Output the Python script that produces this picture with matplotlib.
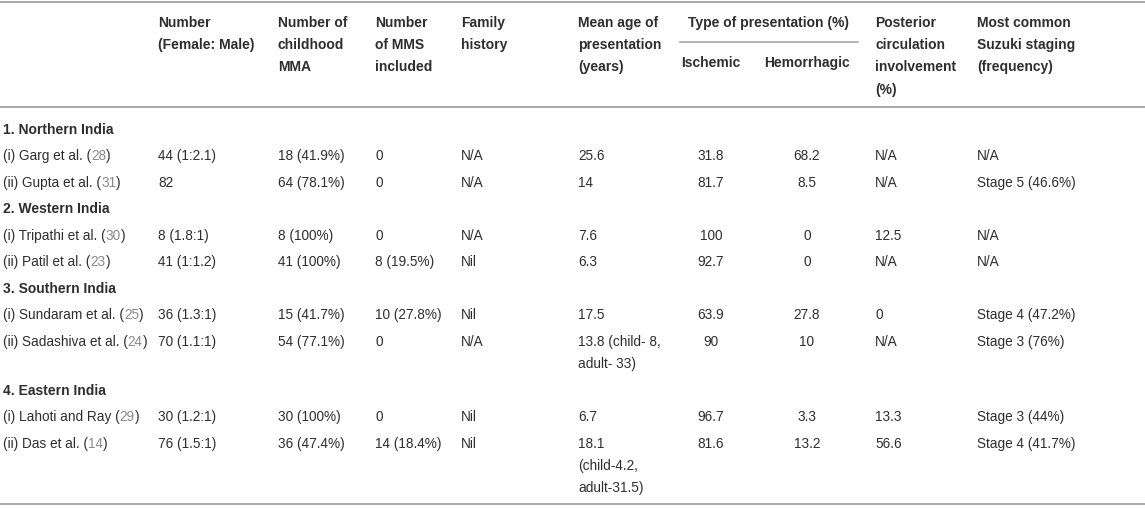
import matplotlib.pyplot as plt

# Table data
regiones = ["1. Northern India", "2. Western India", "3. Southern India", "4. Eastern India"]
region_de_estudio = [0, 0, 1, 1, 2, 2, 3, 3]
estudios = ["(i) Garg et al.", "(ii) Gupta et al.", "(i) Tripathi et al.", "(ii) Patil et al.",
            "(i) Sundaram et al.", "(ii) Sadashiva et al.", "(i) Lahoti and Ray", "(ii) Das et al."]
referencias = ["28", "31", "30", "23", "25", "24", "29", "14"]
numero = ["44 (1:2.1)", "82", "8 (1.8:1)", "41 (1:1.2)", "36 (1.3:1)", "70 (1.1:1)", "30 (1.2:1)", "76 (1.5:1)"]
infantil = ["18 (41.9%)", "64 (78.1%)", "8 (100%)", "41 (100%)", "15 (41.7%)", "54 (77.1%)", "30 (100%)", "36 (47.4%)"]
mms = ["0", "0", "0", "8 (19.5%)", "10 (27.8%)", "0", "0", "14 (18.4%)"]
familia = ["N/A", "N/A", "N/A", "Nil", "Nil", "N/A", "Nil", "Nil"]
edad = ["25.6", "14", "7.6", "6.3", "17.5", "13.8 (child- 8,\nadult- 33)", "6.7",
        "18.1\n(child-4.2,\nadult-31.5)"]
isquemico = ["31.8", "81.7", "100", "92.7", "63.9", "90", "96.7", "81.6"]
hemorragico = ["68.2", "8.5", "0", "0", "27.8", "10", "3.3", "13.2"]
posterior = ["N/A", "N/A", "12.5", "N/A", "0", "N/A", "13.3", "56.6"]
suzuki = ["N/A", "Stage 5 (46.6%)", "N/A", "N/A", "Stage 4 (47.2%)", "Stage 3 (76%)",
          "Stage 3 (44%)", "Stage 4 (41.7%)"]

encabezados = ["Number\n(Female: Male)", "Number of\nchildhood\nMMA", "Number\nof MMS\nincluded",
               "Family\nhistory", "Mean age of\npresentation\n(years)", None, None,
               "Posterior\ncirculation\ninvolvement\n(%)", "Most common\nSuzuki staging\n(frequency)"]
grupo = "Type of presentation (%)"
subencabezados = ["Ischemic", "Hemorrhagic"]

# Layout (pixels)
W, H = 1145, 510
col_x = [158, 278, 375, 461, 578, 711, 807, 875, 977]
col_ha = ["left", "left", "left", "left", "left", "center", "center", "left", "left"]
stub_x = 3
texto = "#2e2e2e"
gris = "#8a8a8a"
regla = "#a8a8a8"
fs = 9.8
fs_b = 10
lh = 22.2

plt.rcParams['font.family'] = ['Liberation Sans', 'DejaVu Sans']

fig = plt.figure(figsize=(W / 100, H / 100), dpi=100)
ax = fig.add_axes([0, 0, 1, 1])
ax.set_xlim(0, W)
ax.set_ylim(H, 0)
ax.axis("off")


def celda(x, y, s, ha="left", bold=False, color=texto):
    for i, linea in enumerate(s.split("\n")):
        ax.text(x, y + i * lh, linea, ha=ha, va="center", fontsize=fs_b if bold else fs,
                fontweight="bold" if bold else "normal", color=color)


# rules
ax.axhline(3, color=regla, lw=1.4)
ax.axhline(108, color=regla, lw=1.4)
ax.axhline(505, color=regla, lw=1.4)

# header
y0 = 23
for x, ha, h in zip(col_x, col_ha, encabezados):
    if h is not None:
        celda(x, y0, h, bold=True)
celda((680 + 858) / 2, y0, grupo, ha="center", bold=True)
ax.plot([680, 858], [43, 43], color=regla, lw=1.2)
for x, s in zip(col_x[5:7], subencabezados):
    celda(x, 63, s, ha="center", bold=True)

# body
columnas = [numero, infantil, mms, familia, edad, isquemico, hemorragico, posterior, suzuki]
y = 130
paso = 26.5
region_actual = -1
for i, est in enumerate(estudios):
    if region_de_estudio[i] != region_actual:
        region_actual = region_de_estudio[i]
        celda(stub_x, y, regiones[region_actual], bold=True)
        y += paso
    # stub with grey reference number
    t = ax.text(stub_x, y, est + " (", ha="left", va="center", fontsize=fs, color=texto)
    t = ax.annotate(referencias[i], xy=(1, 0), xycoords=t, ha="left", va="bottom",
                    fontsize=fs, color=gris)
    ax.annotate(")", xy=(1, 0), xycoords=t, ha="left", va="bottom", fontsize=fs, color=texto)
    nlin = 1
    for x, ha, col in zip(col_x, col_ha, columnas):
        celda(x, y, col[i], ha=ha)
        nlin = max(nlin, col[i].count("\n") + 1)
    y += paso + (nlin - 1) * lh

fig.savefig("out.png", dpi=100)
